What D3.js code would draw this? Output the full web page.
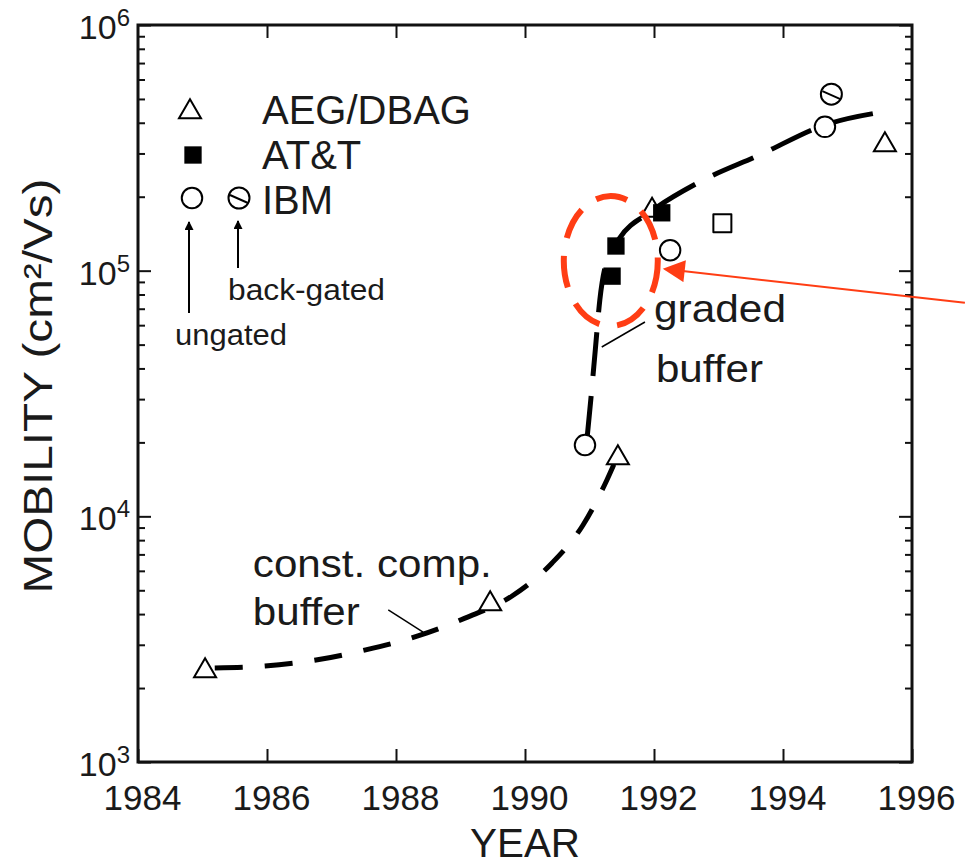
<!DOCTYPE html>
<html>
<head>
<meta charset="utf-8">
<script src="https://cdn.jsdelivr.net/npm/d3@7"></script>
<style>
  body { margin: 0; background: #fff; }
  text { font-family: "Liberation Sans", Arial, sans-serif; fill: #1a1a1a; }
</style>
</head>
<body>
<svg id="chart" width="965" height="867"></svg>
<script>
// data (year, mobility in cm2/Vs)
var aegYears = [1985.04, 1989.46, 1991.44, 1991.97, 1995.58],
    aegMob   = [2350, 4400, 17300, 176000, 325000];
var attYears = [1991.35, 1991.41, 1992.12],
    attMob   = [95000, 126000, 172000];
var ibmYears = [1990.93, 1992.25, 1994.65],
    ibmMob   = [19500, 121000, 385000];
var ibmSqYears = [1993.06],
    ibmSqMob   = [156000];
var ibmBackYears = [1994.75],
    ibmBackMob   = [523000];

// trend lines
var constYears = [1985.19, 1985.97, 1986.76, 1987.53, 1988.34, 1989.07, 1989.80, 1990.42, 1990.90, 1991.27, 1991.41],
    constMob   = [2415, 2460, 2600, 2860, 3260, 3850, 4740, 6460, 9220, 14060, 17000];
var gradedYears = [1990.96, 1991.02, 1991.09, 1991.16, 1991.26, 1991.47, 1991.94, 1992.71, 1993.64, 1994.65, 1995.55],
    gradedMob   = [20500, 29800, 47600, 76000, 108000, 136000, 173000, 230000, 296000, 392000, 443000];

var yearTicks = [1984, 1986, 1988, 1990, 1992, 1994, 1996];
var decadeTicks = [1e3, 1e4, 1e5, 1e6];
var expLabels = ["3", "4", "5", "6"];
var legendNames = ["AEG/DBAG", "AT&T", "IBM"];

var svg = d3.select("#chart"),
    margin = {top: 25, right: 53, bottom: 105, left: 138},
    width = 965 - margin.left - margin.right,
    height = 867 - margin.top - margin.bottom;

var x = d3.scaleLinear().domain([1984, 1996]).range([0, width]),
    y = d3.scaleLog().domain([1e3, 1e6]).range([height, 0]);

var g = svg.append("g")
    .attr("transform", "translate(" + margin.left + "," + margin.top + ")");

var minorTicks = [];
[1e3, 1e4, 1e5].forEach(function(d) {
  for (var k = 2; k <= 9; k++) minorTicks.push(d * k);
});

function clean(sel) {
  sel.select(".domain").remove();
  sel.selectAll(".tick line").attr("stroke", "#111").attr("stroke-width", 2);
}

// bottom axis with labels
g.append("g")
    .attr("transform", "translate(0," + height + ")")
    .call(d3.axisBottom(x).tickValues(yearTicks).tickFormat(d3.format("d")).tickSize(-13).tickPadding(23))
    .call(clean)
    .call(function(s) {
      s.selectAll(".tick text").attr("font-size", 35).attr("dx", 4)
        .style("font-family", "'Liberation Sans', Arial, sans-serif").attr("fill", "#1a1a1a");
    });
// top axis, ticks only
g.append("g")
    .call(d3.axisTop(x).tickValues(yearTicks.slice(1, -1)).tickFormat("").tickSize(-13))
    .call(clean);
// left and right, major and minor
g.append("g").call(d3.axisLeft(y).tickValues(decadeTicks).tickFormat("").tickSize(-13)).call(clean);
g.append("g").call(d3.axisLeft(y).tickValues(minorTicks).tickFormat("").tickSize(-7)).call(clean);
g.append("g").attr("transform", "translate(" + width + ",0)")
    .call(d3.axisRight(y).tickValues(decadeTicks).tickFormat("").tickSize(-13)).call(clean);
g.append("g").attr("transform", "translate(" + width + ",0)")
    .call(d3.axisRight(y).tickValues(minorTicks).tickFormat("").tickSize(-7)).call(clean);

// frame
g.append("rect")
    .attr("width", width).attr("height", height)
    .attr("fill", "none").attr("stroke", "#111").attr("stroke-width", 3);

// y tick labels 10^n
decadeTicks.forEach(function(d, i) {
  var t = g.append("text")
      .attr("x", -8)
      .attr("y", y(d) + 14)
      .attr("text-anchor", "end");
  t.append("tspan").attr("font-size", 34).text("10");
  t.append("tspan").attr("font-size", 24).attr("dy", -13).text(expLabels[i]);
});

// axis titles
svg.append("text")
    .attr("x", 525).attr("y", 857)
    .attr("text-anchor", "middle")
    .attr("font-size", 40)
    .attr("textLength", 110)
    .attr("lengthAdjust", "spacingAndGlyphs")
    .text("YEAR");

svg.append("text")
    .attr("transform", "translate(52,386) rotate(-90)")
    .attr("text-anchor", "middle")
    .attr("font-size", 41)
    .attr("textLength", 415)
    .attr("lengthAdjust", "spacingAndGlyphs")
    .text("MOBILITY (cm²/Vs)");

// dashed trend curves
var line = d3.line()
    .x(function(d) { return x(d[0]); })
    .y(function(d) { return y(d[1]); })
    .curve(d3.curveMonotoneX);

g.append("path")
    .datum(d3.zip(constYears, constMob))
    .attr("d", line)
    .attr("fill", "none").attr("stroke", "#000")
    .attr("stroke-width", 5).attr("stroke-dasharray", "28,22");

g.append("path")
    .datum(d3.zip(gradedYears, gradedMob))
    .attr("d", line)
    .attr("fill", "none").attr("stroke", "#000")
    .attr("stroke-width", 5).attr("stroke-dasharray", "44,20");

// markers
var tri = d3.symbol().type(d3.symbolTriangle).size(210),
    sq = d3.symbol().type(d3.symbolSquare).size(300),
    openSq = d3.symbol().type(d3.symbolSquare).size(324),
    circ = d3.symbol().type(d3.symbolCircle).size(330);

function drawBackGated(sel) {
  sel.append("circle").attr("r", 10.5).attr("fill", "#fff").attr("stroke", "#000").attr("stroke-width", 2);
  sel.append("line").attr("x1", -9).attr("y1", -3).attr("x2", 9).attr("y2", 5)
      .attr("stroke", "#000").attr("stroke-width", 2);
}

g.selectAll(".aeg")
  .data(d3.zip(aegYears, aegMob))
  .enter().append("path")
    .attr("class", "aeg")
    .attr("transform", function(d) { return "translate(" + x(d[0]) + "," + y(d[1]) + ")"; })
    .attr("d", tri)
    .attr("fill", "#fff").attr("stroke", "#000").attr("stroke-width", 2);

g.selectAll(".att")
  .data(d3.zip(attYears, attMob))
  .enter().append("path")
    .attr("class", "att")
    .attr("transform", function(d) { return "translate(" + x(d[0]) + "," + y(d[1]) + ")"; })
    .attr("d", sq)
    .attr("fill", "#000");

g.selectAll(".ibm")
  .data(d3.zip(ibmYears, ibmMob))
  .enter().append("path")
    .attr("class", "ibm")
    .attr("transform", function(d) { return "translate(" + x(d[0]) + "," + y(d[1]) + ")"; })
    .attr("d", circ)
    .attr("fill", "#fff").attr("stroke", "#000").attr("stroke-width", 2);

g.selectAll(".ibmsq")
  .data(d3.zip(ibmSqYears, ibmSqMob))
  .enter().append("path")
    .attr("class", "ibmsq")
    .attr("transform", function(d) { return "translate(" + x(d[0]) + "," + y(d[1]) + ")"; })
    .attr("d", openSq)
    .attr("fill", "#fff").attr("stroke", "#000").attr("stroke-width", 2).attr("stroke-linejoin", "round");

g.selectAll(".ibmback")
  .data(d3.zip(ibmBackYears, ibmBackMob))
  .enter().append("g")
    .attr("class", "ibmback")
    .attr("transform", function(d) { return "translate(" + x(d[0]) + "," + y(d[1]) + ")"; })
    .call(drawBackGated);

// legend
var leg = svg.append("g").attr("transform", "translate(190,0)");
leg.append("path").attr("transform", "translate(0,112)").attr("d", tri)
    .attr("fill", "#fff").attr("stroke", "#000").attr("stroke-width", 2);
leg.append("path").attr("transform", "translate(3,155)").attr("d", sq).attr("fill", "#000");
leg.append("path").attr("transform", "translate(2,198)").attr("d", circ)
    .attr("fill", "#fff").attr("stroke", "#000").attr("stroke-width", 2);
leg.append("g").attr("transform", "translate(49,198)").call(drawBackGated);
leg.selectAll(".legtxt")
  .data(legendNames)
  .enter().append("text")
    .attr("class", "legtxt")
    .attr("x", 72)
    .attr("y", function(d, i) { return 124 + i * 45; })
    .attr("font-size", 40)
    .text(function(d) { return d; });

// arrow heads
var defs = svg.append("defs");
defs.append("marker")
    .attr("id", "blk").attr("viewBox", "0 0 10 10")
    .attr("refX", 9).attr("refY", 5)
    .attr("markerWidth", 12).attr("markerHeight", 9)
    .attr("markerUnits", "userSpaceOnUse")
    .attr("orient", "auto")
  .append("path").attr("d", "M0,0L10,5L0,10Z").attr("fill", "#000");
defs.append("marker")
    .attr("id", "red").attr("viewBox", "0 0 10 10")
    .attr("refX", 9).attr("refY", 5)
    .attr("markerWidth", 28).attr("markerHeight", 22)
    .attr("markerUnits", "userSpaceOnUse")
    .attr("orient", "auto")
  .append("path").attr("d", "M0,0L10,5L0,10Z").attr("fill", "#ff3d14");

// legend arrows (ungated / back-gated)
leg.append("line").attr("x1", -1).attr("y1", 313).attr("x2", -1).attr("y2", 222)
    .attr("stroke", "#000").attr("stroke-width", 2).attr("marker-end", "url(#blk)");
leg.append("line").attr("x1", 48).attr("y1", 268).attr("x2", 48).attr("y2", 221)
    .attr("stroke", "#000").attr("stroke-width", 2).attr("marker-end", "url(#blk)");
leg.append("text").attr("x", 38).attr("y", 300).attr("font-size", 30)
    .attr("textLength", 157).attr("lengthAdjust", "spacingAndGlyphs").text("back-gated");
leg.append("text").attr("x", -15).attr("y", 345).attr("font-size", 30)
    .attr("textLength", 112).attr("lengthAdjust", "spacingAndGlyphs").text("ungated");

// annotations (positions in data units)
var notes = [
  {text: "const. comp.", year: 1985.78, mob: 5660, len: 239},
  {text: "buffer", year: 1985.78, mob: 3610, len: 107},
  {text: "graded", year: 1992.0, mob: 61800, len: 132},
  {text: "buffer", year: 1992.03, mob: 35300, len: 107}
];
g.selectAll(".note")
  .data(notes)
  .enter().append("text")
    .attr("class", "note")
    .attr("x", function(d) { return x(d.year); })
    .attr("y", function(d) { return y(d.mob); })
    .attr("font-size", 39)
    .attr("textLength", function(d) { return d.len; })
    .attr("lengthAdjust", "spacingAndGlyphs")
    .text(function(d) { return d.text; });

var leaders = [
  {y0: 1987.88, m0: 4160, y1: 1988.42, m1: 3380},
  {y0: 1991.19, m0: 48900, y1: 1991.86, m1: 61800}
];
g.selectAll(".leader")
  .data(leaders)
  .enter().append("line")
    .attr("class", "leader")
    .attr("x1", function(d) { return x(d.y0); })
    .attr("y1", function(d) { return y(d.m0); })
    .attr("x2", function(d) { return x(d.y1); })
    .attr("y2", function(d) { return y(d.m1); })
    .attr("stroke", "#000").attr("stroke-width", 1.5);

// red highlight ellipse and arrow
g.append("ellipse")
    .attr("cx", x(1991.33)).attr("cy", y(109500))
    .attr("rx", 47).attr("ry", 65)
    .attr("fill", "none").attr("stroke", "#ff3d14")
    .attr("stroke-width", 6).attr("stroke-dasharray", "32,18");

g.append("line")
    .attr("x1", x(1996.82)).attr("y1", y(74000))
    .attr("x2", x(1992.17)).attr("y2", y(101600))
    .attr("stroke", "#ff3d14").attr("stroke-width", 2)
    .attr("marker-end", "url(#red)");
</script>
</body>
</html>
